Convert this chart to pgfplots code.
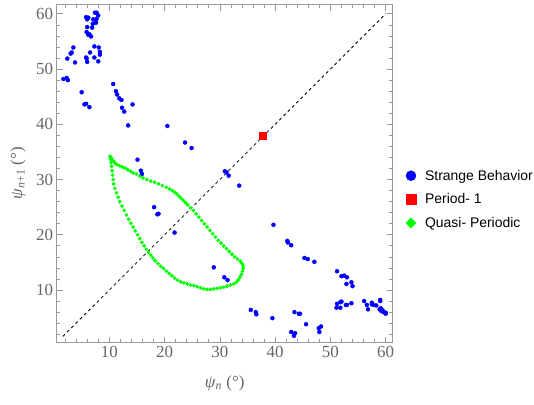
\documentclass[border=0pt]{standalone}
\usepackage{pgfplots}
\pgfplotsset{compat=1.18}
\usepackage{fontspec}
\setmainfont{Liberation Serif}
\newfontfamily\legfont{Liberation Sans}
\definecolor{framegray}{gray}{0.6}
\definecolor{labelgray}{gray}{0.4}
\definecolor{pblue}{rgb}{0,0,1}
\definecolor{pred}{rgb}{1,0,0}
\definecolor{pgreen}{rgb}{0,1,0}
\pgfplotsset{
  bigleg/.style={legend image code/.code={\draw[##1, mark size=5bp] plot coordinates {(5bp,0bp)};}},
  midleg/.style={legend image code/.code={\draw[##1, mark size=3.6bp] plot coordinates {(5bp,0bp)};}},
}
\begin{document}
\begin{tikzpicture}
\begin{axis}[name=ax, scale only axis, width=336bp, height=337.7bp,
 xmin=0.48, xmax=61.27, ymin=0.46, ymax=61.6,
 xtick={10,20,...,60}, ytick={10,20,...,60},
 minor xtick={2,4,...,60}, minor ytick={2,4,...,60},
 tick align=inside, major tick length=6bp, minor tick length=3.5bp,
 axis line style={framegray, line width=1bp},
 every tick/.style={framegray, line width=0.7bp},
 ticklabel style={font=\fontsize{17}{17}\selectfont, text=labelgray},
 /pgf/number format/assume math mode=true,
 xlabel={\textit{ψ}\textsubscript{\textit{n}} (°)},
 ylabel={\textit{ψ}\textsubscript{\textit{n}+1} (°)},
 label style={font=\fontsize{17}{17}\selectfont, text=labelgray},
 xlabel style={at={(axis description cs:0.5,-0.1193)}, anchor=center},
 ylabel style={at={(axis description cs:-0.1152,0.5025)}, anchor=center},
 legend cell align=left,
 legend style={draw=none, fill=none, at={(axis description cs:1.0387,0.4246)}, anchor=west,
   font=\legfont\fontsize{14}{14}\selectfont, row sep=12bp, column sep=9bp, inner sep=0pt,
   nodes={inner sep=0pt}},
]
\addplot[black, line width=0.8bp, dash pattern=on 3bp off 3bp, forget plot] coordinates {(1.6,1.6) (60,60)};

\addplot[only marks, mark=*, mark size=2bp, color=pblue, mark options={draw=none, fill=pblue}, bigleg] coordinates {
(7.4,60.2) (7.7,60.2) (5.8,59.4) (6.2,59.3) (6.0,59.0) (8.0,59.7) (7.7,59.1) (7.1,59.0)
(7.0,58.2) (7.6,58.4) (6.0,57.6) (6.9,57.5) (5.9,56.7) (6.4,56.3) (6.7,55.9) (6.2,56.2)
(3.5,53.9) (3.2,53.0) (3.0,52.8) (2.4,51.9) (3.8,51.2) (7.3,54.1) (8.1,53.9) (8.3,53.1)
(8.3,52.6) (7.3,52.1) (8.0,51.4) (6.5,53.0) (5.8,52.1) (5.9,51.9) (6.0,51.3)
(1.7,48.2) (2.3,48.4) (2.5,48.0) (5.0,45.8) (5.5,43.6) (5.8,43.7) (6.4,43.1)
(10.7,47.3) (11.2,46.0) (11.4,45.4) (11.8,44.7) (12.2,44.4) (12.3,43.0) (12.7,42.3)
(14.2,43.6) (13.4,39.8)
(20.5,39.7) (23.7,36.7) (24.9,35.7) (30.9,31.5) (31.2,31.3) (31.6,30.7) (33.5,28.9)
(15.1,33.6) (15.7,31.6) (15.9,31.0) (18.1,25.0) (18.7,23.7) (18.9,23.8) (21.8,20.4)
(39.7,21.8) (28.9,14.1) (30.8,12.3) (31.4,11.8)
(42.2,18.9) (42.3,18.6) (42.9,18.1) (45.3,15.8) (45.9,15.6) (47.1,15.1) (51.2,13.4)
(52.0,12.5) (52.5,12.6) (53.0,12.3) (53.8,11.4) (54.0,10.7) (52.9,11.1)
(52.0,7.9) (51.8,7.8) (51.2,7.5) (51.1,6.8) (51.8,6.8) (52.8,7.3) (53.0,7.3) (53.8,7.6)
(56.1,8.0) (56.6,7.3) (56.8,6.5) (57.5,7.7) (57.5,7.4) (57.8,7.3) (58.3,7.2)
(59.0,8.2) (59.0,8.0) (58.9,6.5) (59.2,6.2) (59.4,6.4) (59.6,6.0) (60.0,5.9) (60.0,5.7) (59.1,6.7)
(39.5,4.9) (43.5,6.0) (44.3,5.7) (44.5,5.7) (45.6,3.8) (42.9,2.4) (43.6,2.2) (43.4,1.7)
(47.9,3.1) (48.3,3.4) (48.0,2.4) (35.6,6.4) (36.6,5.6) (36.5,6.0)
};
\addlegendentry{Strange Behavior}

\addplot[only marks, mark=square*, mark size=3.5bp, color=pred, mark options={draw=none, fill=pred}, bigleg] coordinates {(37.8,38.0)};
\addlegendentry{Period- 1}

\addplot[only marks, mark=square*, mark size=1.2bp, color=pgreen, mark options={draw=none, fill=pgreen, rotate=45}, midleg] coordinates {
(10.1,34.2) (10.3,34.0) (10.5,33.7) (10.7,33.4) (10.9,33.1) (11.1,32.9) (11.4,32.7) (11.8,32.5)
(12.3,32.3) (12.8,32.1) (13.3,31.8) (13.8,31.5) (14.3,31.2) (14.9,31.0) (15.5,30.6) (16.1,30.3)
(16.8,30.0) (17.5,29.7) (18.2,29.5) (18.9,29.2) (19.6,28.9) (20.3,28.6) (20.9,28.3) (21.4,28.0)
(21.8,27.7) (22.2,27.4) (22.6,27.0) (23.0,26.6) (23.4,26.2) (23.8,25.8) (24.2,25.4) (24.7,24.9)
(25.2,24.4) (25.7,23.8) (26.2,23.2) (26.7,22.6) (27.2,22.0) (27.7,21.4) (28.2,20.8) (28.7,20.2)
(29.2,19.6) (29.7,19.0) (30.2,18.5) (30.7,18.0) (31.2,17.5) (31.7,17.0) (32.2,16.5) (32.7,16.0)
(33.2,15.6) (33.7,15.2) (34.0,14.8) (34.2,14.4) (34.2,13.9) (34.1,13.4) (33.9,12.8) (33.6,12.3)
(33.3,11.8) (33.0,11.4) (32.5,11.1) (31.9,10.9) (31.3,10.7) (30.7,10.5) (30.1,10.4) (29.5,10.3)
(28.9,10.2) (28.3,10.1) (27.7,10.1) (27.1,10.2) (26.5,10.4) (25.9,10.6) (25.3,10.8) (24.7,10.9)
(24.1,11.1) (23.5,11.3) (22.9,11.5) (22.3,11.8) (21.8,12.2) (21.3,12.6) (20.8,13.0) (20.3,13.4)
(19.8,13.9) (19.3,14.3) (18.8,14.8) (18.3,15.3) (17.9,15.8) (17.5,16.3) (17.1,16.8) (16.7,17.4)
(16.3,18.0) (15.9,18.6) (15.5,19.3) (15.1,20.0) (14.7,20.7) (14.3,21.4) (13.9,22.1) (13.5,22.8)
(13.1,23.6) (12.7,24.4) (12.3,25.2) (11.9,26.0) (11.6,26.8) (11.3,27.6) (11.0,28.4) (10.8,29.2)
(10.7,30.0) (10.6,30.8) (10.5,31.6) (10.4,32.4) (10.3,33.1) (10.2,33.7)
};
\addlegendentry{Quasi- Periodic}
\end{axis}
\path (ax.south west) ++(-56.7bp,-62.3bp);
\path (ax.north east) ++(141.3bp,5bp);
\end{tikzpicture}
\end{document}
